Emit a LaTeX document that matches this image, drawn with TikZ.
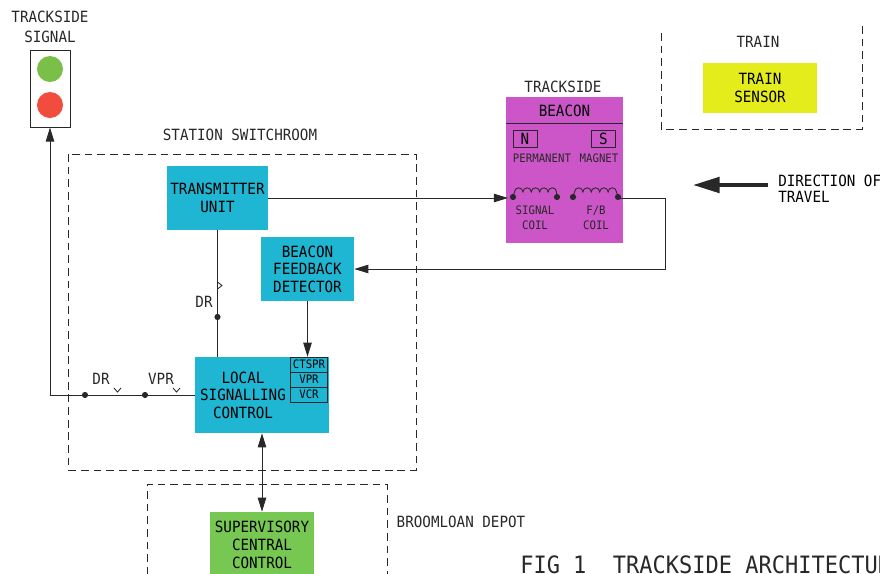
\documentclass[tikz,border=0pt]{standalone}
\usepackage{fontspec}
\setmainfont{DejaVu Sans Mono}[FakeStretch=0.92]
\usetikzlibrary{arrows.meta}
\definecolor{unitcyan}{RGB}{30,182,210}
\definecolor{beaconpink}{RGB}{204,86,200}
\definecolor{depotgreen}{RGB}{118,200,82}
\definecolor{sensoryellow}{RGB}{228,236,28}
\definecolor{lampgreen}{RGB}{122,192,72}
\definecolor{lampred}{RGB}{242,76,62}
\definecolor{ink}{RGB}{40,40,40}

\begin{document}
\begin{tikzpicture}[x=0.025cm, y=-0.025cm,
    unit/.style={rectangle, fill=unitcyan, align=center, inner sep=0pt, font=\fontsize{11}{12.5}\selectfont},
    relay/.style={rectangle, draw=ink, line width=0.7pt, minimum width=0.925cm, minimum height=0.375cm, inner sep=0pt, font=\fontsize{8.3}{9}\selectfont},
    magnet/.style={rectangle, draw=ink, line width=0.7pt, minimum width=0.6cm, minimum height=0.425cm, inner sep=0pt, font=\fontsize{11}{12}\selectfont},
    zone/.style={draw=ink, line width=0.6pt, dash pattern=on 5.5pt off 3.5pt},
    wire/.style={draw=ink, line width=0.6pt},
    arrow/.style={wire, -{Triangle[length=10pt, width=6pt]}},
    twoway/.style={wire, {Triangle[length=10pt, width=6pt]}-{Triangle[length=10pt, width=6pt]}},
    label/.style={font=\fontsize{11}{14}\selectfont, align=center, text=ink},
    small/.style={font=\fontsize{8.3}{11}\selectfont, align=center, text=ink}
]
    \useasboundingbox (0,0) rectangle (880,573);
    \clip (0,0) rectangle (880,573);

    % Trackside signal
    \node[label] (siglabel) at (50,27) {TRACKSIDE\\SIGNAL};
    \node[rectangle, draw=ink, line width=0.7pt, fill=white, minimum width=1cm, minimum height=1.925cm] (sig) at (50,88.5) {};
    \node[circle, fill=lampgreen, minimum size=0.65cm, inner sep=0pt] (green) at (50,69) {};
    \node[circle, fill=lampred, minimum size=0.65cm, inner sep=0pt] (red) at (50,105) {};

    % Station switchroom
    \draw[zone] (68,154) rectangle (416,470);
    \node[label] (roomlabel) at (240,135) {STATION SWITCHROOM};
    \node[unit, minimum width=2.525cm, minimum height=1.6cm] (tx) at (217.5,198) {TRANSMITTER\\UNIT};
    \node[unit, minimum width=2.325cm, minimum height=1.6cm] (bfd) at (307.5,269) {BEACON\\FEEDBACK\\DETECTOR};
    \node[unit, minimum width=3.325cm, minimum height=1.9cm] (lsc) at (262,395) {};
    \node[font=\fontsize{11}{12.5}\selectfont, align=center] (lsctext) at (243,395) {LOCAL\\SIGNALLING\\CONTROL};
    \node[relay] (ctspr) at (309,364.5) {CTSPR};
    \node[relay] (vpr) at (309,379.5) {VPR};
    \node[relay] (vcr) at (309,394.5) {VCR};

    % Trackside beacon
    \node[label] (beaconlabel) at (563,87) {TRACKSIDE};
    \node[rectangle, fill=beaconpink, minimum width=2.925cm, minimum height=3.65cm] (beacon) at (564.5,170) {};
    \node[font=\fontsize{11}{13}\selectfont] (beacontitle) at (564.5,111) {BEACON};
    \draw[wire] (506,123) -- (623,123);
    \node[magnet] (north) at (525,138.5) {N};
    \node[magnet] (south) at (603.5,138.5) {S};
    \node[small] (permanent) at (542,158) {PERMANENT};
    \node[small] (magnet) at (599,158) {MAGNET};
    \draw[wire] (513,197) -- (514.5,192) \foreach \k in {1,...,5}{ arc[start angle=180, end angle=0, radius=0.105cm] } -- (557,197);
    \draw[wire] (573,197) -- (574.5,192) \foreach \k in {1,...,5}{ arc[start angle=180, end angle=0, radius=0.105cm] } -- (618,197);
    \fill[ink] (513,197) circle[radius=2.2pt] (557,197) circle[radius=2.2pt] (573,197) circle[radius=2.2pt] (618,197) circle[radius=2.2pt];
    \coordinate (sigcoil) at (508,198);
    \coordinate (fbout) at (620,198);
    \node[small] (sigcoillabel) at (535,218) {SIGNAL\\COIL};
    \node[small] (fbcoillabel) at (596,218) {F/B\\COIL};

    % Train
    \draw[zone] (661,33) -- (661,129) -- (862,129) -- (862,25);
    \node[label] (trainlabel) at (758,42) {TRAIN};
    \node[rectangle, fill=sensoryellow, minimum width=2.85cm, minimum height=1.25cm, align=center, font=\fontsize{11}{13}\selectfont] (sensor) at (760,88) {TRAIN\\SENSOR};

    % Direction of travel
    \node[font=\fontsize{11}{11.5}\selectfont, align=left, anchor=west, inner sep=0pt] (travel) at (778,189) {DIRECTION OF\\TRAVEL};
    \coordinate (dirtail) at (768,185);
    \coordinate (dirtip) at (693,185);
    \draw[draw=ink, line width=2.8pt, -{Triangle[length=19pt, width=11pt]}] (dirtail) -- (dirtip);

    % Broomloan depot
    \draw[zone] (147,600) -- (147,484) -- (387,484) -- (387,600);
    \node[label] (depotlabel) at (461,522) {BROOMLOAN DEPOT};
    \node[rectangle, fill=depotgreen, minimum width=2.45cm, minimum height=1.65cm, align=center, font=\fontsize{11}{12.8}\selectfont] (svc) at (262,545) {SUPERVISORY\\CENTRAL\\CONTROL};

    % Connections
    \draw[arrow] (tx.east) -- (sigcoil);
    \draw[arrow] (fbout) -- (665,198) |- (bfd.east);
    \draw[arrow] (bfd.south) -- (bfd.south |- lsc.north);
    \draw[wire] (tx.south) -- (tx.south |- lsc.north);
    \draw[arrow] (lsc.west) -- (sig.south |- lsc.west) -- (sig.south);
    \draw[twoway] (lsc.south) -- (svc.north);

    % Relay contacts
    \coordinate (drtap) at (217.5,317);
    \coordinate (drdot) at (85,395);
    \coordinate (vprdot) at (145,395);
    \fill[ink] (drtap) circle[radius=2.2pt] (drdot) circle[radius=2.2pt] (vprdot) circle[radius=2.2pt];
    \draw[wire] (217.5,282) -- (222,285.5) -- (217.5,289);
    \draw[wire] (114,388) -- (117.5,392) -- (121,388);
    \draw[wire] (173,388) -- (176.5,392) -- (180,388);
    \node[label] (drtx) at (204,302) {DR};
    \node[label] (drsig) at (101,379) {DR};
    \node[label] (vprsig) at (161,379) {VPR};

    % Caption
    \node[font=\fontsize{17}{20}\selectfont, anchor=west, inner sep=0pt, text=ink] (caption) at (520,565) {FIG 1\ \ TRACKSIDE ARCHITECTURE};
\end{tikzpicture}
\end{document}
